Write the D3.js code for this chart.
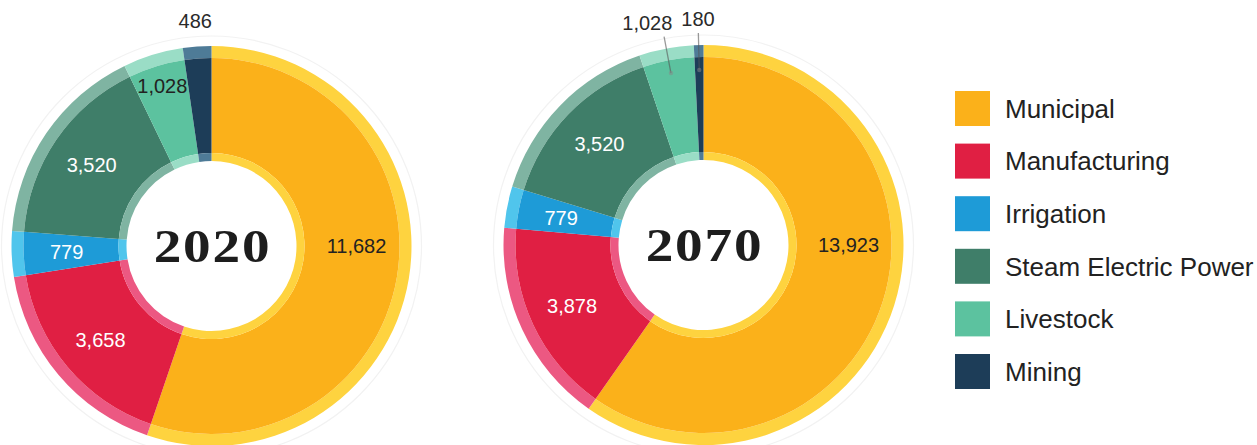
<!DOCTYPE html>
<html>
<head>
<meta charset="utf-8">
<script src="https://cdn.jsdelivr.net/npm/d3@7"></script>
<style>
  html, body { margin: 0; padding: 0; background: #fff; }
  svg { display: block; }
</style>
</head>
<body>
<svg id="chart" width="1257" height="445"></svg>
<script>
// ---- data ----
const categories = ["Municipal", "Manufacturing", "Irrigation", "Steam Electric Power", "Livestock", "Mining"];
const values2020 = [11682, 3658, 779, 3520, 1028, 486];
const values2070 = [13923, 3878, 779, 3520, 1028, 180];
const years = ["2020", "2070"];

// ---- styles ----
const mainColors  = ["#FBB11A", "#E01F43", "#1E9BD7", "#3F7E69", "#5CC29F", "#1D3D58"];
const lightColors = ["#FED33F", "#EC5882", "#50C5EC", "#7FB4A2", "#9ADDC6", "#4E7B97"];
const darkLabel   = ["Municipal", "Livestock"];

const charts = [
  { year: years[0], values: values2020, cx: 211.5, cy: 246, outside: ["Mining"], leader: false,
    labelRadius: { "Livestock": 168 } },
  { year: years[1], values: values2070, cx: 703.5, cy: 245, outside: ["Livestock", "Mining"], leader: true,
    labelRadius: {} }
];

const R_FAINT = 210, R_OUT = 200, R_MAIN_OUT = 188, R_MAIN_IN = 93, R_IN = 85;

const svg = d3.select("#chart");
const fmt = d3.format(",");
const color = d3.scaleOrdinal().domain(categories).range(mainColors);
const lightColor = d3.scaleOrdinal().domain(categories).range(lightColors);

const pie = d3.pie().sort(null).value(d => d.value);
const arcMain  = d3.arc().innerRadius(R_MAIN_IN).outerRadius(R_MAIN_OUT);
const arcOuter = d3.arc().innerRadius(R_MAIN_OUT).outerRadius(R_OUT);
const arcInner = d3.arc().innerRadius(R_IN).outerRadius(R_MAIN_IN);

function polar(r, a) { return [r * Math.sin(a), -r * Math.cos(a)]; }

charts.forEach(ch => {
  const data = categories.map((c, i) => ({ cat: c, value: ch.values[i] }));
  const arcs = pie(data);
  const g = svg.append("g").attr("transform", `translate(${ch.cx},${ch.cy})`);

  g.append("circle").attr("r", R_FAINT).attr("fill", "none")
    .attr("stroke", "#f2f2f2").attr("stroke-width", 1.2);

  g.selectAll("path.outer").data(arcs).join("path").attr("class", "outer")
    .attr("d", arcOuter).attr("fill", d => lightColor(d.data.cat));
  g.selectAll("path.main").data(arcs).join("path").attr("class", "main")
    .attr("d", arcMain).attr("fill", d => color(d.data.cat));
  g.selectAll("path.inner").data(arcs).join("path").attr("class", "inner")
    .attr("d", arcInner).attr("fill", d => lightColor(d.data.cat));

  const maxVal = d3.max(arcs, d => d.value);

  // inside labels
  const inside = arcs.filter(d => !ch.outside.includes(d.data.cat));
  g.selectAll("text.in").data(inside).join("text").attr("class", "in")
    .attr("transform", d => {
      const mid = d.value === maxVal ? Math.PI / 2 : (d.startAngle + d.endAngle) / 2;
      const r = ch.labelRadius[d.data.cat] || 145;
      const [x, y] = polar(r, mid);
      return `translate(${x},${y})`;
    })
    .attr("text-anchor", "middle").attr("dy", "0.36em")
    .style("font-family", "'Liberation Sans', Arial, sans-serif")
    .style("font-size", "20px")
    .attr("fill", d => darkLabel.includes(d.data.cat) ? "#222" : "#fff")
    .text(d => fmt(d.value));

  // outside labels
  const outs = arcs.filter(d => ch.outside.includes(d.data.cat));
  if (ch.leader) {
    outs.forEach(d => {
      const mid = (d.startAngle + d.endAngle) / 2;
      const [x1, y1] = polar(175, mid);
      const [x2, y2] = polar(212, mid);
      g.append("line").attr("x1", x1).attr("y1", y1).attr("x2", x2).attr("y2", y2)
        .attr("stroke", "#555").attr("stroke-opacity", 0.6).attr("stroke-width", 1.3);
      g.append("circle").attr("cx", x1).attr("cy", y1).attr("r", 2.2)
        .attr("fill", "#888").attr("fill-opacity", 0.5);
    });
  }
  const outTexts = outs.map(d => {
    const mid = (d.startAngle + d.endAngle) / 2;
    const [x, y] = polar(226, mid);
    const t = g.append("text").attr("x", x).attr("y", y)
      .attr("text-anchor", "middle").attr("dy", "0.36em")
      .style("font-family", "'Liberation Sans', Arial, sans-serif")
      .style("font-size", "20px").attr("fill", "#2a2a2a")
      .text(fmt(d.value));
    return { t, x };
  });
  for (let i = outTexts.length - 2; i >= 0; i--) {
    const a = outTexts[i], b = outTexts[i + 1];
    const wa = a.t.node().getComputedTextLength(), wb = b.t.node().getComputedTextLength();
    const rightA = a.x + wa / 2, leftB = b.x - wb / 2;
    if (rightA > leftB - 9) {
      a.x = leftB - 9 - wa / 2;
      a.t.attr("x", a.x);
    }
  }

  // year
  g.append("text").attr("text-anchor", "middle")
    .attr("transform", "translate(1,15.5) scale(1.2,1)")
    .style("font-family", "'Liberation Serif', 'Times New Roman', serif")
    .style("font-weight", "bold").style("font-size", "46px")
    .style("letter-spacing", "1.5px")
    .attr("fill", "#1d1d1d")
    .text(ch.year);
});

// legend
const legend = svg.append("g").attr("transform", "translate(955,91)");
const ly = d3.scaleBand().domain(categories).range([0, 52.6 * categories.length]);
const items = legend.selectAll("g").data(categories).join("g")
  .attr("transform", d => `translate(0,${ly(d)})`);
items.append("rect").attr("width", 35).attr("height", 35)
  .attr("fill", d => color(d));
items.append("text").attr("x", 50).attr("y", 17.5).attr("dy", "0.36em")
  .style("font-family", "'Liberation Sans', Arial, sans-serif")
  .style("font-size", "26px").attr("fill", "#222")
  .text(d => d);
</script>
</body>
</html>
